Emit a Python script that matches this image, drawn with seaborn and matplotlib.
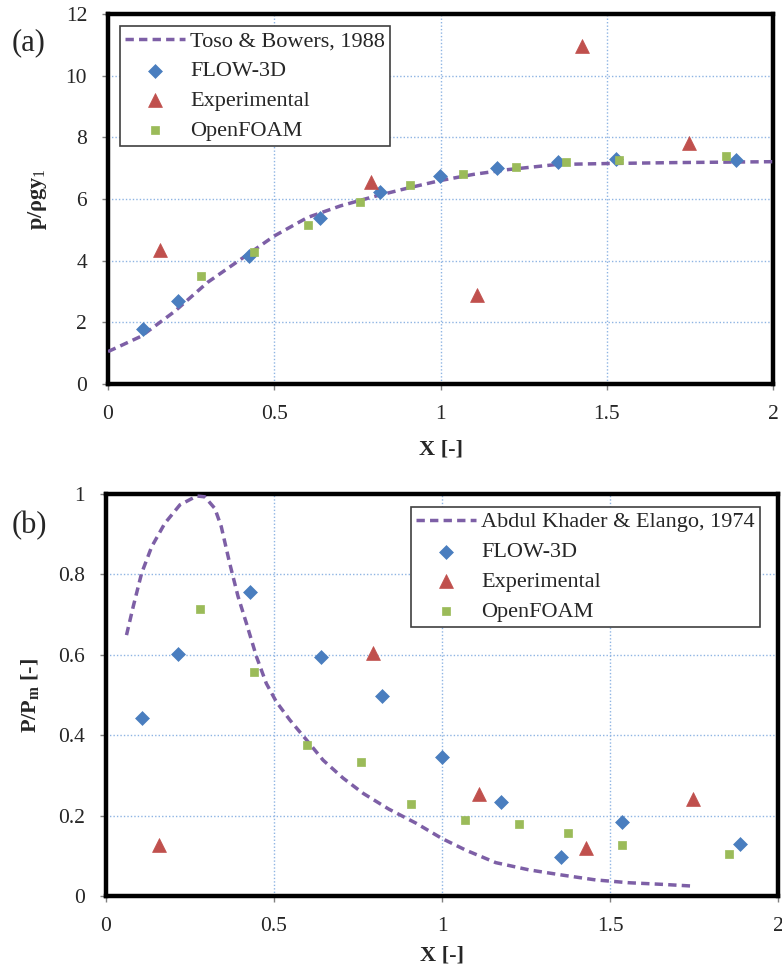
import numpy as np
import pandas as pd
import matplotlib
matplotlib.use("Agg")
import matplotlib.pyplot as plt
import seaborn as sns

# ---------------- data ----------------
# Panel (a)
toso_x = [0, 0.1, 0.2, 0.3, 0.4, 0.5, 0.6, 0.7, 0.8, 0.9, 1.0, 1.1, 1.2, 1.35, 1.5, 1.7, 2.0]
toso_y = [1.05, 1.55, 2.35, 3.3, 4.05, 4.8, 5.4, 5.78, 6.08, 6.35, 6.6, 6.8, 6.95, 7.12, 7.15, 7.18, 7.21]
a_flow_x = [0.104, 0.211, 0.425, 0.638, 0.818, 0.998, 1.17, 1.354, 1.528, 1.889]
a_flow_y = [1.79, 2.68, 4.16, 5.39, 6.22, 6.73, 7.01, 7.2, 7.31, 7.28]
a_exp_x = [0.156, 0.791, 1.111, 1.427, 1.747]
a_exp_y = [4.36, 6.55, 2.89, 10.97, 7.83]
a_of_x = [0.279, 0.439, 0.6, 0.758, 0.908, 1.069, 1.227, 1.377, 1.537, 1.858]
a_of_y = [3.49, 4.27, 5.15, 5.9, 6.44, 6.82, 7.04, 7.2, 7.26, 7.39]

# Panel (b)
ak_x = [0.061, 0.081, 0.106, 0.136, 0.175, 0.22, 0.27, 0.294, 0.324, 0.343, 0.368, 0.393,
        0.418, 0.448, 0.477, 0.507, 0.547, 0.597, 0.646, 0.706, 0.766, 0.842, 0.923, 1.0,
        1.071, 1.16, 1.259, 1.358, 1.457, 1.556, 1.655, 1.739]
ak_y = [0.649, 0.72, 0.803, 0.869, 0.927, 0.973, 0.995, 0.993, 0.964, 0.919, 0.828, 0.745,
        0.678, 0.595, 0.529, 0.483, 0.438, 0.388, 0.338, 0.293, 0.255, 0.216, 0.181, 0.143,
        0.114, 0.083, 0.065, 0.052, 0.04, 0.033, 0.029, 0.025]
b_flow_x = [0.108, 0.215, 0.429, 0.641, 0.822, 0.999, 1.177, 1.353, 1.535, 1.888]
b_flow_y = [0.442, 0.601, 0.757, 0.595, 0.498, 0.345, 0.234, 0.096, 0.185, 0.129]
b_exp_x = [0.158, 0.795, 1.111, 1.43, 1.746]
b_exp_y = [0.127, 0.604, 0.253, 0.12, 0.241]
b_of_x = [0.279, 0.44, 0.598, 0.759, 0.908, 1.069, 1.228, 1.375, 1.537, 1.855]
b_of_y = [0.713, 0.556, 0.375, 0.334, 0.229, 0.189, 0.178, 0.156, 0.126, 0.104]

x_ticks = [0, 0.5, 1, 1.5, 2]
x_ticklabels = ["0", "0.5", "1", "1.5", "2"]
a_yticks = [0, 2, 4, 6, 8, 10, 12]
b_yticks = [0, 0.2, 0.4, 0.6, 0.8, 1.0]
b_yticklabels = ["0", "0.2", "0.4", "0.6", "0.8", "1"]

# ---------------- style ----------------
sns.set_style("white")
plt.rcParams['font.family'] = ['Liberation Serif', 'DejaVu Serif']
plt.rcParams['mathtext.fontset'] = 'custom'
plt.rcParams['mathtext.rm'] = 'Liberation Serif'
plt.rcParams['mathtext.it'] = 'Liberation Serif:italic'
plt.rcParams['mathtext.bf'] = 'Liberation Serif:bold'

C_LINE = "#7D5FA6"
C_FLOW = "#4A7EBF"
C_EXP = "#C0504D"
C_OF = "#9BBB59"
GRID = "#8EB4E3"

fig = plt.figure(figsize=(7.82, 9.68), dpi=100)
W, H = 782, 968
ax1 = fig.add_axes([108 / W, 1 - 384 / H, 665 / W, 370 / H])
ax2 = fig.add_axes([106 / W, 1 - 896 / H, 672 / W, 402 / H])

TICK_FS = 15.5
LEG_FS = 16


def style_axes(ax, yticks, yticklabels, ylim):
    ax.set_xlim(0, 2)
    ax.set_ylim(*ylim)
    ax.set_xticks(x_ticks)
    ax.set_xticklabels(x_ticklabels)
    ax.set_yticks(yticks)
    ax.set_yticklabels(yticklabels)
    ax.grid(True, linestyle=(0, (1, 1.5)), color=GRID, linewidth=1.0)
    ax.set_axisbelow(True)
    for s in ax.spines.values():
        s.set_color("black")
        s.set_linewidth(3.2)
        s.set_visible(True)
    ax.tick_params(axis="both", direction="out", length=4, width=1, color="#808080",
                   labelsize=TICK_FS, pad=11, bottom=True, left=True)


def draw(ax, lx, ly, lname, fx, fy, ex, ey, ox, oy):
    sns.lineplot(x=lx, y=ly, ax=ax, color=C_LINE, linewidth=2.5, estimator=None,
                 sort=False, label=lname, zorder=3)
    ax.lines[-1].set_linestyle((0, (2.4, 1.5)))
    sns.scatterplot(x=fx, y=fy, ax=ax, marker="D", s=50, color=C_FLOW,
                    edgecolor=C_FLOW, linewidth=0.5, label="FLOW-3D", zorder=4)
    sns.scatterplot(x=ex, y=ey, ax=ax, marker="^", s=100, color=C_EXP,
                    edgecolor=C_EXP, linewidth=0.5, label="Experimental", zorder=4)
    sns.scatterplot(x=ox, y=oy, ax=ax, marker="s", s=40, color=C_OF,
                    edgecolor=C_OF, linewidth=0.5, label="OpenFOAM", zorder=4)


draw(ax1, toso_x, toso_y, "Toso & Bowers, 1988", a_flow_x, a_flow_y,
     a_exp_x, a_exp_y, a_of_x, a_of_y)
draw(ax2, ak_x, ak_y, "Abdul Khader & Elango, 1974", b_flow_x, b_flow_y,
     b_exp_x, b_exp_y, b_of_x, b_of_y)

style_axes(ax1, a_yticks, [str(v) for v in a_yticks], (0, 12))
style_axes(ax2, b_yticks, b_yticklabels, (0, 1))

leg_kw = dict(fontsize=LEG_FS, frameon=True, fancybox=False, framealpha=1,
              edgecolor="#404040", handlelength=2.7, handletextpad=0.25,
              labelspacing=0.42, borderpad=0.22, borderaxespad=0.0, scatterpoints=1)
leg1 = ax1.legend(loc="upper left", bbox_to_anchor=(12 / 665, (384 - 26) / 370), **leg_kw)
leg2 = ax2.legend(loc="upper right", bbox_to_anchor=((760 - 106) / 672, (896 - 507) / 402), **leg_kw)
for lg in (leg1, leg2):
    lg.get_frame().set_linewidth(1.2)

ax1.set_xlabel("X [-]", fontsize=16, fontweight="bold", labelpad=11)
ax2.set_xlabel("X [-]", fontsize=16, fontweight="bold", labelpad=7)
ax1.set_ylabel("p/ρgy$_1$", fontsize=16, fontweight="bold", labelpad=12)
ax2.set_ylabel("P/P$_\\mathbf{m}$ [-]", fontsize=16, fontweight="bold", labelpad=12)

fig.text(12 / W, 1 - 43 / H, "(a)", fontsize=22, ha="left", va="center")
fig.text(12 / W, 1 - 526 / H, "(b)", fontsize=22, ha="left", va="center")

fig.savefig("out.png", dpi=100, facecolor="white")
